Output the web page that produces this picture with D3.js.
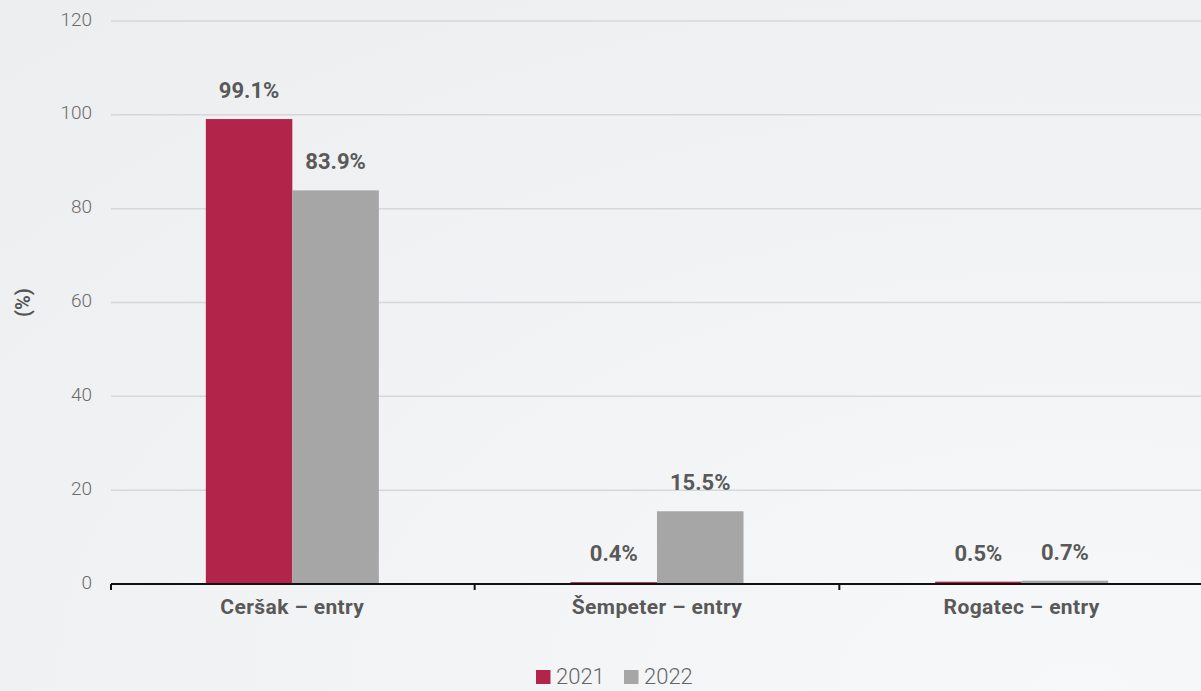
<!DOCTYPE html>
<html><head><meta charset="utf-8">
<script src="https://cdn.jsdelivr.net/npm/d3@7/dist/d3.min.js"></script>
<style>
html,body{margin:0;padding:0;}
body{width:1201px;height:691px;overflow:hidden;}
text{font-family:Roboto, "DejaVu Sans", sans-serif;}
</style></head>
<body>
<svg id="c" width="1201" height="691"></svg>
<script>
const categories = ["Ceršak – entry", "Šempeter – entry", "Rogatec – entry"];
const seriesNames = ["2021", "2022"];
const values2021 = [99.1, 0.4, 0.5];
const values2022 = [83.9, 15.5, 0.7];
const yTicks = [0, 20, 40, 60, 80, 100, 120];
const colors = ["#b22449", "#a6a6a6"];

const W = 1201, H = 691;
const m = {left: 111, top: 21, bottom: 107};
const svg = d3.select("#c");

const defs = svg.append("defs");
const g0 = defs.append("radialGradient").attr("id","bg").attr("cx","0.9").attr("cy","1").attr("r","1.3");
g0.append("stop").attr("offset","0").attr("stop-color","#f7f8f9");
g0.append("stop").attr("offset","1").attr("stop-color","#edeef0");
svg.append("rect").attr("width",W).attr("height",H).attr("fill","url(#bg)");

const x0 = d3.scaleBand().domain(categories).range([110, 1204]).paddingInner(0).paddingOuter(0);
const x1 = d3.scaleBand().domain(seriesNames).range([0, 173]);
const groupOffset = (x0.bandwidth() - 173) / 2;
const y = d3.scaleLinear().domain([0, 120]).range([H - m.bottom, m.top]);

// gridlines
svg.append("g").selectAll("line").data(yTicks.filter(d => d > 0)).join("line")
  .attr("x1", m.left).attr("x2", W).attr("y1", d => y(d)).attr("y2", d => y(d))
  .attr("stroke", "#d6d7d9").attr("stroke-width", 1.5);

// y tick labels
const yAxis = svg.append("g").attr("transform", `translate(${m.left},-2)`)
  .call(d3.axisLeft(y).tickValues(yTicks).tickSize(0).tickPadding(19));
yAxis.select(".domain").remove();
yAxis.selectAll("text").attr("font-size", 19).attr("font-weight", 300).attr("fill", "#6b6b6b")
  .attr("font-family", "Roboto, sans-serif");

// axis title
svg.append("text").attr("transform", `translate(30,${y(60)}) rotate(-90)`)
  .attr("text-anchor", "middle").attr("font-size", 20).attr("font-weight", 700).attr("fill", "#555")
  .text("(%)");

const data = categories.map((c, i) => ({cat: c, vals: [
  {s: seriesNames[0], v: values2021[i], color: colors[0]},
  {s: seriesNames[1], v: values2022[i], color: colors[1]}]}));

const groups = svg.append("g").selectAll("g").data(data).join("g")
  .attr("transform", d => `translate(${x0(d.cat) + groupOffset},0)`);
groups.selectAll("rect").data(d => d.vals).join("rect")
  .attr("x", d => x1(d.s)).attr("width", x1.bandwidth())
  .attr("y", d => y(d.v)).attr("height", d => y(0) - y(d.v))
  .attr("fill", d => d.color);
groups.selectAll("text").data(d => d.vals).join("text")
  .attr("x", d => x1(d.s) + x1.bandwidth() / 2).attr("y", d => y(d.v) - 21)
  .attr("text-anchor", "middle").attr("font-size", 22).attr("font-weight", 700).attr("fill", "#595959")
  .text(d => d.v.toFixed(1) + "%");

// x axis
const xAxis = svg.append("g").attr("transform", `translate(0,${y(0)})`)
  .call(d3.axisBottom(x0).tickSize(0).tickPadding(15));
xAxis.select(".domain").remove();
xAxis.selectAll("text").attr("font-size", 21).attr("font-weight", 700).attr("fill", "#595959")
  .attr("letter-spacing", 0.4).attr("font-family", "Roboto, sans-serif");
svg.append("line").attr("x1", m.left).attr("x2", W).attr("y1", y(0)).attr("y2", y(0))
  .attr("stroke", "#111").attr("stroke-width", 2);
svg.append("g").selectAll("line").data(categories).join("line")
  .attr("x1", d => Math.max(x0(d), m.left)).attr("x2", d => Math.max(x0(d), m.left))
  .attr("y1", y(0)).attr("y2", y(0) + 6).attr("stroke", "#111").attr("stroke-width", 2);

// legend
const legend = svg.append("g").attr("transform", "translate(536,670)");
const lx = [0, 88];
seriesNames.forEach((s, i) => {
  const lg = legend.append("g").attr("transform", `translate(${lx[i]},0)`);
  lg.append("rect").attr("width", 14.5).attr("height", 14).attr("fill", colors[i]);
  lg.append("text").attr("x", 20).attr("y", 14).attr("font-size", 22).attr("font-weight", 300)
    .attr("fill", "#666").text(s);
});
</script>
</body></html>
